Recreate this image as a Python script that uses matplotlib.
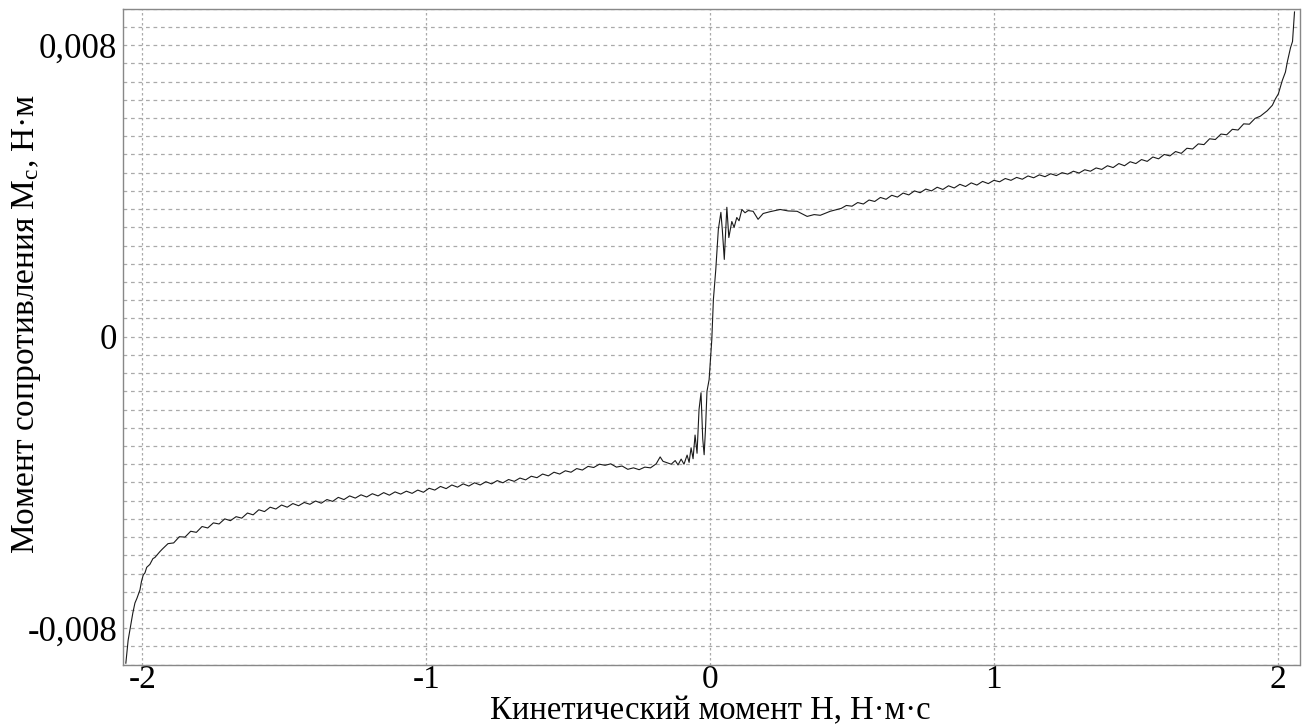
import matplotlib
matplotlib.use("Agg")
import matplotlib.pyplot as plt
from matplotlib.ticker import FixedLocator, MultipleLocator, FuncFormatter

plt.rcParams["font.family"] = ["Liberation Serif", "DejaVu Serif"]

# левый крутой участок
H_left = [-2.0585, -2.0504, -2.041, -2.0338, -2.0265, -2.0194, -2.0088, -2.0035, -1.9972, -1.991,
          -1.985, -1.9739, -1.963, -1.9562, -1.9386]
Mc_left = [-0.00896, -0.00833, -0.00790, -0.00758, -0.00731, -0.00718, -0.00695, -0.00672, -0.00654, -0.00648,
           -0.00633, -0.00625, -0.00609, -0.00606, -0.00590]

# левая пологая ветвь
H_neg = [-1.93, -1.91, -1.89, -1.87, -1.85, -1.83, -1.81, -1.79, -1.77, -1.75,
         -1.73, -1.71, -1.69, -1.67, -1.65, -1.63, -1.61, -1.59, -1.57, -1.55,
         -1.53, -1.51, -1.49, -1.47, -1.45, -1.43, -1.41, -1.39, -1.37, -1.35,
         -1.33, -1.31, -1.29, -1.27, -1.25, -1.23, -1.21, -1.19, -1.17, -1.15,
         -1.13, -1.11, -1.09, -1.07, -1.05, -1.03, -1.01, -0.99, -0.97, -0.95,
         -0.93, -0.91, -0.89, -0.87, -0.85, -0.83, -0.81, -0.79, -0.77, -0.75,
         -0.73, -0.71, -0.69, -0.67, -0.65, -0.63, -0.61, -0.59, -0.57, -0.55,
         -0.53, -0.51, -0.49, -0.47, -0.45, -0.43, -0.41, -0.39, -0.37, -0.35,
         -0.33, -0.31, -0.29, -0.27, -0.25, -0.23, -0.21, -0.19]
Mc_neg = [-0.00583, -0.00568, -0.00566, -0.00549, -0.00550, -0.00534, -0.00537, -0.00521, -0.00525, -0.00511,
          -0.00514, -0.00500, -0.00505, -0.00494, -0.00498, -0.00484, -0.00489, -0.00475, -0.00480, -0.00468,
          -0.00473, -0.00462, -0.00468, -0.00458, -0.00464, -0.00455, -0.00460, -0.00451, -0.00457, -0.00447,
          -0.00452, -0.00441, -0.00447, -0.00437, -0.00443, -0.00434, -0.00440, -0.00431, -0.00437, -0.00428,
          -0.00435, -0.00426, -0.00432, -0.00424, -0.00430, -0.00421, -0.00427, -0.00416, -0.00421, -0.00411,
          -0.00417, -0.00407, -0.00413, -0.00404, -0.00410, -0.00401, -0.00407, -0.00398, -0.00404, -0.00395,
          -0.00401, -0.00392, -0.00397, -0.00388, -0.00393, -0.00383, -0.00387, -0.00377, -0.00382, -0.00372,
          -0.00377, -0.00368, -0.00372, -0.00362, -0.00366, -0.00356, -0.00359, -0.00350, -0.00353, -0.00349,
          -0.00358, -0.00355, -0.00364, -0.00360, -0.00365, -0.00358, -0.00360, -0.00349]

# переход через ноль
H_mid = [-0.176, -0.166, -0.152, -0.137, -0.123, -0.113, -0.102, -0.092, -0.081, -0.074,
         -0.067, -0.060, -0.053, -0.046, -0.039, -0.032, -0.026, -0.021, -0.016, -0.011,
         -0.0035, 0.006, 0.0116, 0.020, 0.029, 0.038, 0.043, 0.050, 0.059, 0.066,
         0.0765, 0.0846, 0.094, 0.102, 0.112, 0.123, 0.134, 0.1516, 0.169, 0.187,
         0.2115, 0.247, 0.275, 0.3067, 0.342, 0.3666, 0.388, 0.423, 0.462]
Mc_mid = [-0.00330, -0.00342, -0.00346, -0.00350, -0.00340, -0.00352, -0.00336, -0.00350, -0.00325, -0.00345,
          -0.00305, -0.00335, -0.00270, -0.00320, -0.00200, -0.00154, -0.00280, -0.00324, -0.00250, -0.00150,
          -0.00118, -0.00008, 0.00102, 0.00184, 0.00294, 0.00341, 0.00294, 0.00212, 0.00355, 0.00272,
          0.00316, 0.00300, 0.00327, 0.00318, 0.00349, 0.00340, 0.00346, 0.00344, 0.00322, 0.00338,
          0.00343, 0.00349, 0.00345, 0.00344, 0.00330, 0.00335, 0.00333, 0.00344, 0.00352]

# правая пологая ветвь
H_pos = [0.48, 0.50, 0.52, 0.54, 0.56, 0.58, 0.60, 0.62, 0.64, 0.66,
         0.68, 0.70, 0.72, 0.74, 0.76, 0.78, 0.80, 0.82, 0.84, 0.86,
         0.88, 0.90, 0.92, 0.94, 0.96, 0.98, 1.00, 1.02, 1.04, 1.06,
         1.08, 1.10, 1.12, 1.14, 1.16, 1.18, 1.20, 1.22, 1.24, 1.26,
         1.28, 1.30, 1.32, 1.34, 1.36, 1.38, 1.40, 1.42, 1.44, 1.46,
         1.48, 1.50, 1.52, 1.54, 1.56, 1.58, 1.60, 1.62, 1.64, 1.66,
         1.68, 1.70, 1.72, 1.74, 1.76, 1.78, 1.80, 1.82, 1.84, 1.86,
         1.88, 1.90, 1.92]
Mc_pos = [0.00360, 0.00358, 0.00368, 0.00364, 0.00375, 0.00371, 0.00382, 0.00377, 0.00388, 0.00383,
          0.00394, 0.00389, 0.00400, 0.00395, 0.00405, 0.00400, 0.00410, 0.00404, 0.00414, 0.00408,
          0.00418, 0.00412, 0.00422, 0.00416, 0.00426, 0.00420, 0.00429, 0.00425, 0.00434, 0.00429,
          0.00437, 0.00432, 0.00441, 0.00436, 0.00444, 0.00439, 0.00447, 0.00442, 0.00450, 0.00446,
          0.00454, 0.00449, 0.00458, 0.00454, 0.00463, 0.00459, 0.00469, 0.00464, 0.00475, 0.00469,
          0.00480, 0.00475, 0.00486, 0.00481, 0.00493, 0.00488, 0.00500, 0.00496, 0.00508, 0.00503,
          0.00517, 0.00515, 0.00529, 0.00527, 0.00543, 0.00541, 0.00556, 0.00554, 0.00569, 0.00567,
          0.00584, 0.00583, 0.00599]

# правый крутой участок
H_right = [1.9386, 1.963, 1.981, 1.992, 2.002, 2.016, 2.027, 2.034, 2.045, 2.052, 2.055, 2.059]
Mc_right = [0.00605, 0.00620, 0.00635, 0.00653, 0.00666, 0.00703, 0.00726, 0.00755, 0.00793, 0.00810, 0.00845, 0.00891]

H = H_left + H_neg + H_mid + H_pos + H_right
Mc = Mc_left + Mc_neg + Mc_mid + Mc_pos + Mc_right

x_ticks = [-2, -1, 0, 1, 2]
y_ticks = [-0.008, 0, 0.008]

fig = plt.figure(figsize=(13.07, 7.24), dpi=100)
ax = fig.add_axes([0.094, 0.082, 0.901, 0.906])

ax.plot(H, Mc, color="#1a1a1a", linewidth=0.8)

ax.set_xlim(-2.069, 2.08)
ax.set_ylim(-0.009, 0.009)

ax.xaxis.set_major_locator(FixedLocator(x_ticks))
ax.yaxis.set_major_locator(FixedLocator(y_ticks))
ax.yaxis.set_minor_locator(MultipleLocator(0.0005))
ax.xaxis.set_major_formatter(FuncFormatter(lambda v, p: "%g" % v))
ax.yaxis.set_major_formatter(FuncFormatter(lambda v, p: ("%g" % v).replace(".", ",")))

ax.grid(True, which="major", axis="x", color="#aaaaaa", linestyle=(0, (2, 2)), linewidth=0.9)
ax.grid(True, which="both", axis="y", color="#aaaaaa", linestyle=(0, (3, 3)), linewidth=0.9)

for s in ax.spines.values():
    s.set_color("#888888")
    s.set_linestyle((0, (1, 1)))
    s.set_linewidth(1.0)

ax.tick_params(which="both", length=0, labelsize=25)
ax.tick_params(axis="x", labelsize=24, pad=0)
ax.tick_params(axis="y", pad=4)

fig.text(710 / 1307, 1 - 711 / 724, "Кинетический момент H, Н·м·с", fontsize=23.5,
         ha="center", va="center")
fig.text(27 / 1307, 1 - 324 / 724, r"Момент сопротивления $\mathregular{M_c}$, Н·м", fontsize=24,
         ha="center", va="center", rotation=90)

fig.savefig("out.png", dpi=100)
